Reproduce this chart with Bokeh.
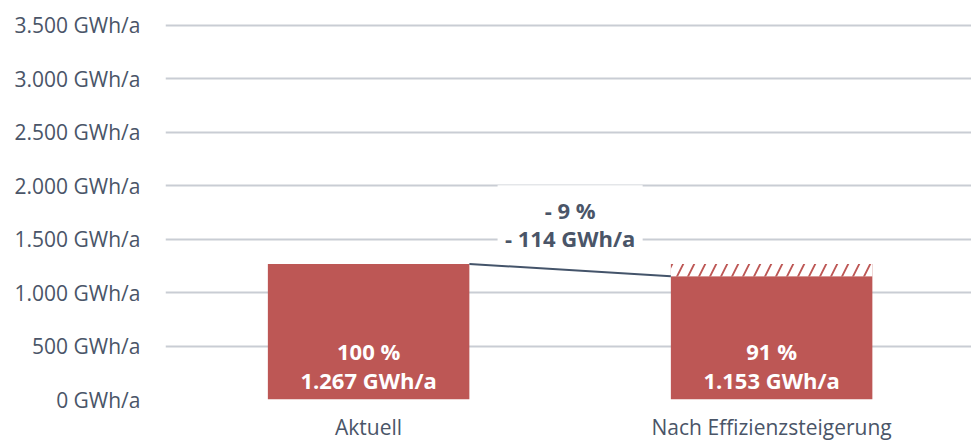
from bokeh.plotting import figure
from bokeh.models import Range1d, FixedTicker
from bokeh.core.properties import value
from bokeh.embed import file_html
from bokeh.resources import INLINE

categories = ["Aktuell", "Nach Effizienzsteigerung"]
values = [1267, 1153]
percent_labels = ["100 %", "91 %"]
value_labels = ["1.267 GWh/a", "1.153 GWh/a"]
saving_labels = ["- 9 %", "- 114 GWh/a"]
y_ticks = [0, 500, 1000, 1500, 2000, 2500, 3000, 3500]
y_tick_labels = ["0 GWh/a", "500 GWh/a", "1.000 GWh/a", "1.500 GWh/a", "2.000 GWh/a",
                 "2.500 GWh/a", "3.000 GWh/a", "3.500 GWh/a"]

RED = "#bd5755"
TXT = "#4a5568"
FONT = "Open Sans"

xs = [i + 0.5 for i in range(len(categories))]
bw = 0.5

p = figure(width=971, height=443, output_backend="svg", toolbar_location=None,
           x_range=Range1d(-0.004, 1.996), y_range=Range1d(0, 3600),
           min_border_left=165, min_border_right=0, min_border_top=14, min_border_bottom=0)
p.outline_line_color = None
p.background_fill_color = "white"
p.border_fill_color = "white"

# grid
p.xgrid.grid_line_color = None
p.ygrid.grid_line_color = "#c9cdd4"
p.ygrid.grid_line_width = 2
p.ygrid.ticker = FixedTicker(ticks=y_ticks)

# y axis
p.yaxis.ticker = FixedTicker(ticks=y_ticks)
p.yaxis.major_label_overrides = {t: l for t, l in zip(y_ticks, y_tick_labels)}
p.yaxis.axis_line_color = None
p.yaxis.major_tick_line_color = None
p.yaxis.minor_tick_line_color = None
p.yaxis.major_tick_out = 0
p.yaxis.major_label_standoff = 25
p.yaxis.major_label_text_font = FONT
p.yaxis.major_label_text_font_size = "21px"
p.yaxis.major_label_text_color = TXT

# x axis
p.xaxis.ticker = FixedTicker(ticks=xs)
p.xaxis.major_label_overrides = {x: c for x, c in zip(xs, categories)}
p.xaxis.axis_line_color = None
p.xaxis.major_tick_line_color = None
p.xaxis.minor_tick_line_color = None
p.xaxis.major_tick_out = 0
p.xaxis.major_label_standoff = 13
p.xaxis.major_label_text_font = FONT
p.xaxis.major_label_text_font_size = "21px"
p.xaxis.major_label_text_color = TXT

# bars
p.vbar(x=xs, top=values, bottom=0, width=bw, fill_color=RED, line_color=None)
# hatched saving part
p.vbar(x=[xs[1]], bottom=[values[1]], top=[values[0]], width=bw, fill_color=RED,
       line_color=None, hatch_pattern="/", hatch_color="white", hatch_scale=22, hatch_weight=8)

# connector
p.line(x=[xs[0] + bw / 2, xs[1] - bw / 2], y=[values[0], values[1]], line_color="#44546a", line_width=2)

# white box for saving label
cx = (xs[0] + xs[1]) / 2
p.quad(left=[cx - 0.18], right=[cx + 0.18], bottom=[1394], top=[2003], fill_color="white", line_color=None)
p.text(x=[cx, cx], y=[1769, 1507], text=saving_labels, text_align="center", text_baseline="middle",
       text_font=value(FONT), text_font_size="22px", text_font_style="bold", text_color=TXT)

# bar labels
p.text(x=xs, y=[458] * 2, text=percent_labels, text_align="center", text_baseline="middle",
       text_font=value(FONT), text_font_size="22px", text_font_style="bold", text_color="white")
p.text(x=xs, y=[178] * 2, text=value_labels, text_align="center", text_baseline="middle",
       text_font=value(FONT), text_font_size="22px", text_font_style="bold", text_color="white")

open("out.html", "w").write(file_html(p, INLINE))
